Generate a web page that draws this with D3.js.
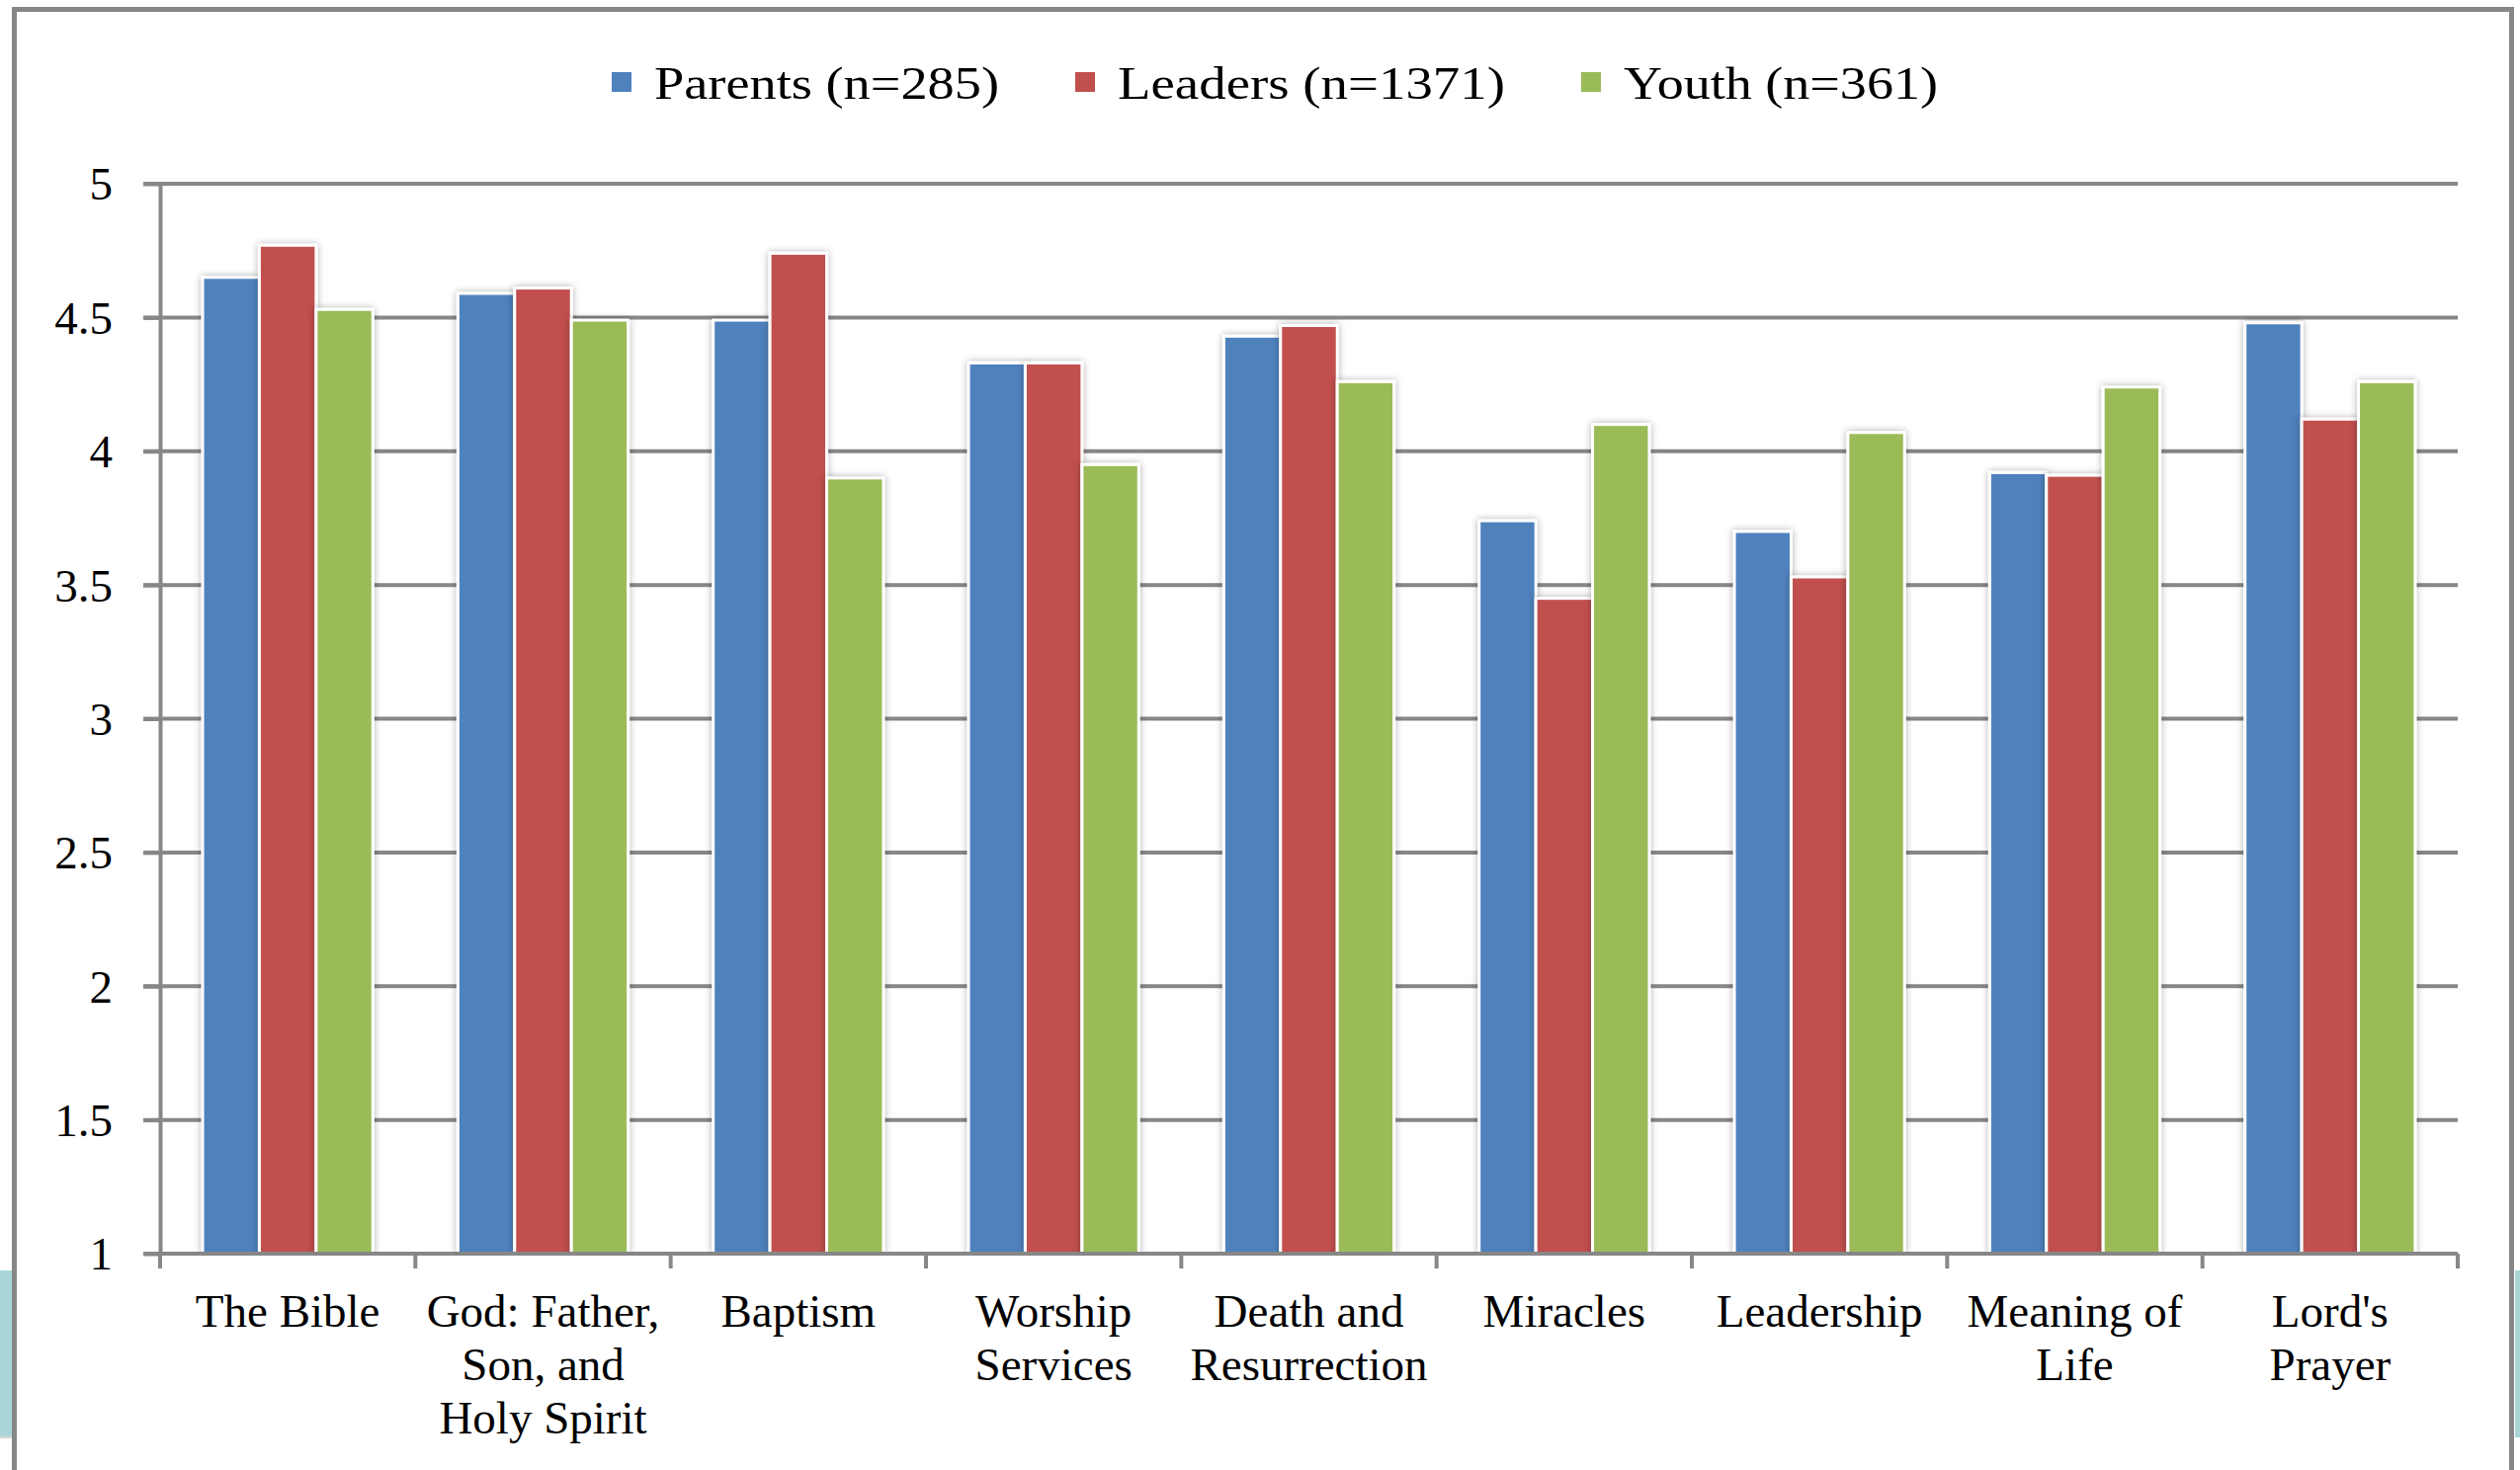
<!DOCTYPE html>
<html><head><meta charset="utf-8">
<script src="https://cdn.jsdelivr.net/npm/d3@7"></script>
<style>html,body{margin:0;padding:0;background:#fff;overflow:hidden}</style>
</head><body>
<svg id="chart" width="2550" height="1488"></svg>
<script>
// ---------- data ----------
const categories = ["The Bible", "God: Father, Son, and Holy Spirit", "Baptism", "Worship Services",
  "Death and Resurrection", "Miracles", "Leadership", "Meaning of Life", "Lord's Prayer"];
const categoryLabelLines = [["The Bible"], ["God: Father,", "Son, and", "Holy Spirit"], ["Baptism"],
  ["Worship", "Services"], ["Death and", "Resurrection"], ["Miracles"], ["Leadership"],
  ["Meaning of", "Life"], ["Lord's", "Prayer"]];
const seriesNames = ["Parents (n=285)", "Leaders (n=1371)", "Youth (n=361)"];
const parents = [4.65, 4.59, 4.49, 4.33, 4.43, 3.74, 3.70, 3.92, 4.48];
const leaders = [4.77, 4.61, 4.74, 4.33, 4.47, 3.45, 3.53, 3.91, 4.12];
const youth   = [4.53, 4.49, 3.90, 3.95, 4.26, 4.10, 4.07, 4.24, 4.26];
const yTicks = [1, 1.5, 2, 2.5, 3, 3.5, 4, 4.5, 5];
const yTickLabels = ["1", "1.5", "2", "2.5", "3", "3.5", "4", "4.5", "5"];
const seriesColors = ["#4F81BD", "#C0504D", "#9BBB59"];

const seriesValues = [parents, leaders, youth];

// ---------- layout ----------
const L = 162, R = 2487, T = 186, B = 1269;
const FONT = "'Liberation Serif', 'Times New Roman', serif";
const FS = 47;
const gridColor = "#878787";

const svg = d3.select("#chart");
const defs = svg.append("defs");
const f = defs.append("filter").attr("id", "sh")
  .attr("x", "-50%").attr("y", "-10%").attr("width", "200%").attr("height", "120%");
f.append("feDropShadow").attr("dx", 0).attr("dy", 0).attr("stdDeviation", 3.5)
  .attr("flood-color", "#000").attr("flood-opacity", 0.32);
defs.append("clipPath").attr("id", "plotclip").append("rect")
  .attr("x", L - 40).attr("y", 0).attr("width", R - L + 80).attr("height", B);

// background decorations (slide frame)
svg.append("rect").attr("x", 0).attr("y", 1286).attr("width", 12).attr("height", 168).attr("fill", "#A9D5D7");
svg.append("line").attr("x1", 0).attr("x2", 12).attr("y1", 1455).attr("y2", 1455).attr("stroke", "#c8c8c8").attr("stroke-width", 1.5);
svg.append("rect").attr("x", 2545).attr("y", 1286).attr("width", 5).attr("height", 169).attr("fill", "#A9D5D7");
svg.append("path").attr("d", "M14.5,1488 V9.5 H2541.5 V1488")
  .attr("fill", "none").attr("stroke", gridColor).attr("stroke-width", 5);

// scales
const x0 = d3.scaleBand().domain(categories).range([L, R]).paddingInner(0).paddingOuter(0);
const x1 = d3.scaleBand().domain(seriesNames).range([0, x0.bandwidth()]).paddingInner(0).paddingOuter(0.75);
const y = d3.scaleLinear().domain([1, 5]).range([B, T]);

// gridlines
svg.append("g").selectAll("line").data(yTicks.filter(v => v > 1)).join("line")
  .attr("x1", L - 17).attr("x2", R).attr("y1", d => y(d)).attr("y2", d => y(d))
  .attr("stroke", gridColor).attr("stroke-width", 4);

// bars
const barsG = svg.append("g").attr("clip-path", "url(#plotclip)");
const groups = barsG.selectAll("g").data(categories).join("g")
  .attr("transform", d => `translate(${x0(d)},0)`);
groups.selectAll("rect").data((c, i) => seriesNames.map((s, j) => ({ s, j, v: seriesValues[j][i] })))
  .join("rect")
  .attr("x", d => x1(d.s))
  .attr("y", d => y(d.v))
  .attr("width", x1.bandwidth())
  .attr("height", d => y(1) - y(d.v))
  .attr("fill", d => seriesColors[d.j])
  .attr("stroke", "#fff").attr("stroke-width", 3)
  .attr("filter", "url(#sh)");

// y axis
const yAxis = d3.axisLeft(y).tickValues(yTicks)
  .tickFormat((d, i) => yTickLabels[i]).tickSizeInner(17).tickSizeOuter(0).tickPadding(31);
const gy = svg.append("g").attr("transform", `translate(${L},0)`).call(yAxis);
gy.select(".domain").attr("stroke", gridColor).attr("stroke-width", 4);
gy.selectAll(".tick line").attr("stroke", gridColor).attr("stroke-width", 4);
gy.selectAll(".tick text").attr("font-family", FONT).attr("font-size", FS).attr("fill", "#000").attr("dy", "0.34em");

// x axis
const xAxis = d3.axisBottom(x0).tickSize(0).tickSizeOuter(0).tickFormat("");
const gx = svg.append("g").attr("transform", `translate(0,${B})`).call(xAxis);
gx.select(".domain").attr("d", `M${L - 17},0H${R}`).attr("stroke", gridColor).attr("stroke-width", 4);
gx.selectAll(".tick text").remove();
gx.selectAll(".tick").append("text")
  .attr("font-family", FONT).attr("font-size", FS).attr("fill", "#000")
  .attr("text-anchor", "middle").attr("y", 74)
  .each(function (d) {
    const lines = categoryLabelLines[categories.indexOf(d)];
    d3.select(this).selectAll("tspan").data(lines).join("tspan")
      .attr("x", 0).attr("dy", (t, k) => k === 0 ? 0 : 54).text(t => t);
  });
const boundaries = categories.map(c => x0(c)).concat([x0.range()[1]]);
gx.selectAll("line.bt").data(boundaries).join("line").attr("class", "bt")
  .attr("x1", d => d).attr("x2", d => d).attr("y1", 0).attr("y2", 15)
  .attr("stroke", gridColor).attr("stroke-width", 4);

// legend
const legendTextWidths = [349, 392, 318];
const keySize = 20, keyGap = 23, itemGap = 77;
let lx = 619;
const lg = svg.append("g");
seriesNames.forEach((s, j) => {
  lg.append("rect").attr("x", lx).attr("y", 73).attr("width", keySize).attr("height", keySize)
    .attr("fill", seriesColors[j]);
  lg.append("text").attr("x", lx + keySize + keyGap).attr("y", 100)
    .attr("font-family", FONT).attr("font-size", FS).attr("fill", "#000")
    .attr("textLength", legendTextWidths[j]).attr("lengthAdjust", "spacingAndGlyphs")
    .text(s);
  lx += keySize + keyGap + legendTextWidths[j] + itemGap;
});
</script>
</body></html>
